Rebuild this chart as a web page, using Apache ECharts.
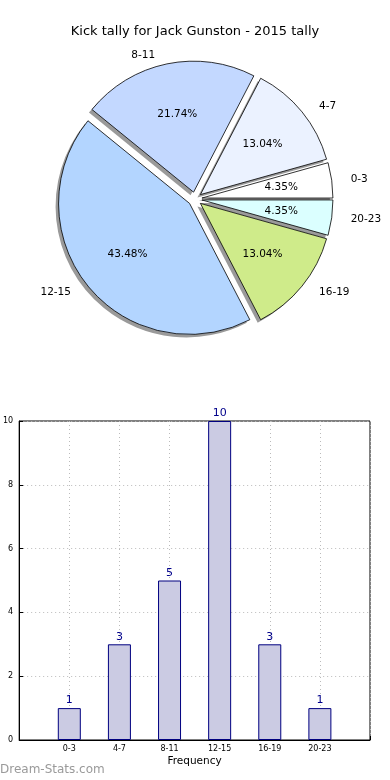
<!DOCTYPE html>
<html>
<head>
<meta charset="utf-8">
<script src="https://cdn.jsdelivr.net/npm/echarts@6/dist/echarts.min.js"></script>
<style>html,body{margin:0;padding:0;background:#fff;}#c{width:390px;height:780px;}</style>
</head>
<body>
<div id="c"></div>
<script>
var titleText = 'Kick tally for Jack Gunston - 2015 tally';
var categories = ['0-3', '4-7', '8-11', '12-15', '16-19', '20-23'];
var counts = [1, 3, 5, 10, 3, 1];
var sliceColors = ['#ffffff', '#ebf2ff', '#c3d8ff', '#b3d5ff', '#cfeb8a', '#dbffff'];
var yTicks = [0, 2, 4, 6, 8, 10];
var xAxisName = 'Frequency';
var watermark = 'Dream-Stats.com';

var FONT = 'DejaVu Sans';
var total = counts.reduce(function (a, b) { return a + b; }, 0);
var pieCenter = [195, 199];
var R = 131;
var OFF = 7;

function pieData(fn) {
  return categories.map(function (c, i) {
    var d = { name: c, value: counts[i], selected: true };
    if (fn) fn(d, i);
    return d;
  });
}

var chart = echarts.init(document.getElementById('c'), null, { renderer: 'canvas' });
chart.setOption({
  animation: false,
  backgroundColor: '#ffffff',
  textStyle: { fontFamily: FONT },
  title: {
    text: titleText, left: 'center', top: 20,
    textStyle: { fontFamily: FONT, fontSize: 13, fontWeight: 'normal', color: '#000' }
  },
  graphic: [{
    type: 'text', left: 0, top: 764,
    style: { text: watermark, font: '12px "DejaVu Sans"', fill: '#9a9a9a' }
  }],
  grid: { left: 19, right: 20, top: 421, bottom: 40, show: true, borderColor: '#000', borderWidth: 1, backgroundColor: 'transparent' },
  xAxis: {
    type: 'value', min: -1, max: 6, interval: 1,
    name: xAxisName, nameLocation: 'middle', nameGap: 16,
    nameTextStyle: { fontFamily: FONT, fontSize: 10.5, color: '#000' },
    axisLine: { show: true, onZero: false, lineStyle: { color: '#000' } },
    axisTick: { show: true, inside: true, length: 4, lineStyle: { color: '#000' } },
    axisLabel: {
      fontFamily: FONT, fontSize: 8, color: '#000', margin: 5,
      formatter: function (v) { return categories[v] !== undefined ? categories[v] : ''; }
    },
    splitLine: { show: true, lineStyle: { color: '#bbbbbb', type: [1, 3] } }
  },
  yAxis: {
    type: 'value', min: yTicks[0], max: yTicks[yTicks.length - 1], interval: yTicks[1] - yTicks[0],
    axisLine: { show: true, onZero: false, lineStyle: { color: '#000' } },
    axisTick: { show: true, inside: true, length: 4, lineStyle: { color: '#000' } },
    axisLabel: { fontFamily: FONT, fontSize: 8, color: '#000', margin: 6 },
    splitLine: { show: true, lineStyle: { color: '#bbbbbb', type: [1, 3] } }
  },
  series: [
    {
      type: 'pie', name: 'shadow', silent: true, z: 1,
      center: [pieCenter[0] - 3, pieCenter[1] + 3], radius: [0, R],
      startAngle: 0, clockwise: false,
      selectedMode: 'multiple', selectedOffset: OFF,
      label: { show: false }, labelLine: { show: false },
      itemStyle: { color: '#9a9a9a', borderWidth: 0 },
      emphasis: { disabled: true },
      data: pieData()
    },
    {
      type: 'pie', name: 'main', silent: true, z: 2,
      center: pieCenter, radius: [0, R],
      startAngle: 0, clockwise: false,
      selectedMode: 'multiple', selectedOffset: OFF,
      avoidLabelOverlap: false,
      label: {
        show: true, position: 'outside', fontFamily: FONT, fontSize: 10.5, color: '#000',
        formatter: '{b}', distanceToLabelLine: 5
      },
      labelLine: { show: false, length: 9, length2: 5 },
      itemStyle: { borderColor: '#000', borderWidth: 0.8 },
      emphasis: { disabled: true },
      data: pieData(function (d, i) { d.itemStyle = { color: sliceColors[i] }; })
    },
    {
      type: 'pie', name: 'pct', silent: true, z: 3,
      center: pieCenter, radius: [67, 87],
      startAngle: 0, clockwise: false,
      selectedMode: 'multiple', selectedOffset: OFF,
      itemStyle: { color: 'rgba(0,0,0,0)', borderWidth: 0 },
      label: {
        show: true, position: 'inside', fontFamily: FONT, fontSize: 10.5, color: '#000',
        formatter: function (p) { return (p.value / total * 100).toFixed(2) + '%'; }
      },
      labelLine: { show: false },
      emphasis: { disabled: true },
      data: pieData()
    },
    {
      type: 'bar', name: 'bars', barWidth: 23,
      itemStyle: { color: '#cbcbe3', borderColor: '#000080', borderWidth: 1 },
      label: { show: true, position: 'top', distance: 2, fontFamily: FONT, fontSize: 11, color: '#00008b' },
      emphasis: { disabled: true },
      data: counts.map(function (v, i) { return [i, v]; })
    }
  ]
});
</script>
</body>
</html>
